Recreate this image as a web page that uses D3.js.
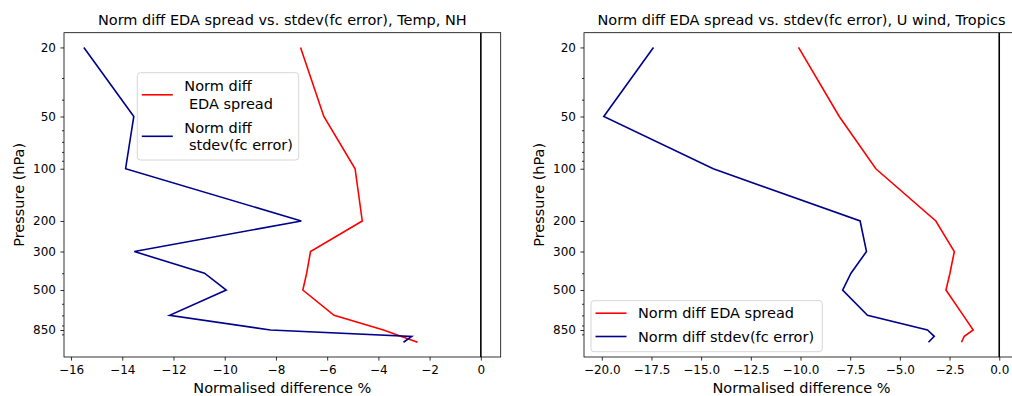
<!DOCTYPE html>
<html>
<head>
<meta charset="utf-8">
<script src="https://cdn.jsdelivr.net/npm/d3@7"></script>
<style>
  html, body { margin: 0; padding: 0; background: #fff; }
  svg { display: block; font-family: "DejaVu Sans", sans-serif; }
  .tick text { fill: #000; }
</style>
</head>
<body>
<svg id="chart" width="1012" height="396"></svg>
<script>
// pressure levels (hPa) shared by both panels
const levels = [20, 50, 100, 200, 300, 400, 500, 700, 850, 925, 1000];

// Temp, NH
const nhSpread = [-7.04, -6.13, -4.91, -4.63, -6.65, -6.8, -6.95, -5.73, -3.8, -3.1, -2.47];
const nhError = [-15.5, -13.55, -13.87, -7.01, -13.53, -10.79, -9.94, -12.15, -8.21, -2.7, -3.02];

// U wind, Tropics
const trSpread = [-10.1, -8.05, -6.21, -3.19, -2.26, -2.48, -2.68, -1.81, -1.31, -1.76, -1.9];
const trError = [-17.4, -19.9, -14.39, -7.0, -6.68, -7.46, -7.88, -6.63, -3.61, -3.27, -3.56];

const yTickValues = [20, 50, 100, 200, 300, 500, 850];
const yMinorValues = [30, 40, 60, 70, 80, 90, 400, 600, 700, 800, 900];
const xTicksLeft = [-16, -14, -12, -10, -8, -6, -4, -2, 0];
const xTicksRight = [-20, -17.5, -15, -12.5, -10, -7.5, -5, -2.5, 0];

const TOP = 32.7;
const BOTTOM = 357;
const RED = '#ff0000';
const BLUE = '#00008b';

const svg = d3.select('#chart');
const minus = s => s.replace('-', '\u2212');

// matplotlib style 5% margins
function padded(lo, hi) {
    const m = (hi - lo) * 0.05;
    return [lo - m, hi + m];
}

function drawPanel(opts) {
    const { left, width, spread, error, xTicks, xFormat, title, legend, id } = opts;
    const right = left + width;

    const xExtent = d3.extent(spread.concat(error, [0]));
    const x = d3.scaleLinear().domain(padded(xExtent[0], xExtent[1])).range([left, right]);

    const ly = padded(Math.log10(d3.min(levels)), Math.log10(d3.max(levels)));
    const y = d3.scaleLog().domain([10 ** ly[0], 10 ** ly[1]]).range([TOP, BOTTOM]);

    const g = svg.append('g');

    g.append('clipPath').attr('id', id)
        .append('rect')
        .attr('x', left).attr('y', TOP)
        .attr('width', width).attr('height', BOTTOM - TOP);

    const plot = g.append('g').attr('clip-path', `url(#${id})`);

    plot.append('line')
        .attr('x1', x(0)).attr('x2', x(0))
        .attr('y1', TOP).attr('y2', BOTTOM)
        .attr('stroke', '#000').attr('stroke-width', 1.6);

    const line = d3.line()
        .x(d => x(d[0]))
        .y(d => y(d[1]));

    plot.append('path')
        .datum(d3.zip(spread, levels))
        .attr('d', line)
        .attr('fill', 'none').attr('stroke', RED).attr('stroke-width', 1.6);

    plot.append('path')
        .datum(d3.zip(error, levels))
        .attr('d', line)
        .attr('fill', 'none').attr('stroke', BLUE).attr('stroke-width', 1.6);

    // axes
    const xAxis = g.append('g')
        .attr('transform', `translate(0,${BOTTOM})`)
        .call(d3.axisBottom(x).tickValues(xTicks).tickFormat(d => minus(xFormat(d)))
            .tickSize(3.6).tickPadding(4.5).tickSizeOuter(0));
    xAxis.select('.domain').remove();

    const yAxis = g.append('g')
        .attr('transform', `translate(${left},0)`)
        .call(d3.axisLeft(y).tickValues(yTickValues).tickFormat(d3.format('d'))
            .tickSize(3.6).tickPadding(4.5).tickSizeOuter(0));
    yAxis.select('.domain').remove();

    g.append('g')
        .attr('transform', `translate(${left},0)`)
        .call(d3.axisLeft(y).tickValues(yMinorValues).tickFormat('').tickSize(2).tickSizeOuter(0))
        .select('.domain').remove();

    g.selectAll('.tick line').attr('stroke', '#000').attr('stroke-width', 0.8);
    g.selectAll('.tick text').attr('font-size', 12).attr('font-family', '"DejaVu Sans", sans-serif');

    g.append('rect')
        .attr('x', left).attr('y', TOP)
        .attr('width', width).attr('height', BOTTOM - TOP)
        .attr('fill', 'none').attr('stroke', '#000').attr('stroke-width', 0.8);

    g.append('text')
        .attr('x', (left + right) / 2).attr('y', 25)
        .attr('text-anchor', 'middle').attr('font-size', 14.5)
        .text(title);

    g.append('text')
        .attr('x', (left + right) / 2).attr('y', 393)
        .attr('text-anchor', 'middle').attr('font-size', 14.5)
        .text('Normalised difference %');

    g.append('text')
        .attr('transform', `translate(${left - 45},${(TOP + BOTTOM) / 2}) rotate(-90)`)
        .attr('dy', '0.35em')
        .attr('text-anchor', 'middle').attr('font-size', 14.5)
        .text('Pressure (hPa)');

    // legend
    const lg = g.append('g');
    lg.append('rect')
        .attr('x', legend.x).attr('y', legend.y)
        .attr('width', legend.w).attr('height', legend.h)
        .attr('rx', 3)
        .attr('fill', 'rgba(255,255,255,0.8)').attr('stroke', '#cccccc').attr('stroke-width', 0.8);

    legend.items.forEach(item => {
        lg.append('line')
            .attr('x1', legend.x + 4.5).attr('x2', legend.x + 35.5)
            .attr('y1', item.cy).attr('y2', item.cy)
            .attr('stroke', item.color).attr('stroke-width', 1.6);
        const t = lg.append('text')
            .attr('font-size', 14.5)
            .attr('xml:space', 'preserve');
        const n = item.lines.length;
        item.lines.forEach((s, i) => {
            t.append('tspan')
                .attr('x', legend.x + 47)
                .attr('y', item.cy + (i - (n - 1) / 2) * 17.6)
                .attr('dy', '0.35em')
                .text(s);
        });
    });
}

drawPanel({
    id: 'clipL',
    left: 64,
    width: 436.7,
    spread: nhSpread,
    error: nhError,
    xTicks: xTicksLeft,
    xFormat: d3.format('d'),
    title: 'Norm diff EDA spread vs. stdev(fc error), Temp, NH',
    legend: {
        x: 137.3, y: 72.7, w: 161.4, h: 87.3,
        items: [
            { color: RED, cy: 94.8, lines: ['Norm diff', ' EDA spread'] },
            { color: BLUE, cy: 136.3, lines: ['Norm diff', ' stdev(fc error)'] }
        ]
    }
});

drawPanel({
    id: 'clipR',
    left: 584,
    width: 435,
    spread: trSpread,
    error: trError,
    xTicks: xTicksRight,
    xFormat: d3.format('.1f'),
    title: 'Norm diff EDA spread vs. stdev(fc error), U wind, Tropics',
    legend: {
        x: 591, y: 300.7, w: 231.3, h: 51,
        items: [
            { color: RED, cy: 313.2, lines: ['Norm diff EDA spread'] },
            { color: BLUE, cy: 336.5, lines: ['Norm diff stdev(fc error)'] }
        ]
    }
});
</script>
</body>
</html>
